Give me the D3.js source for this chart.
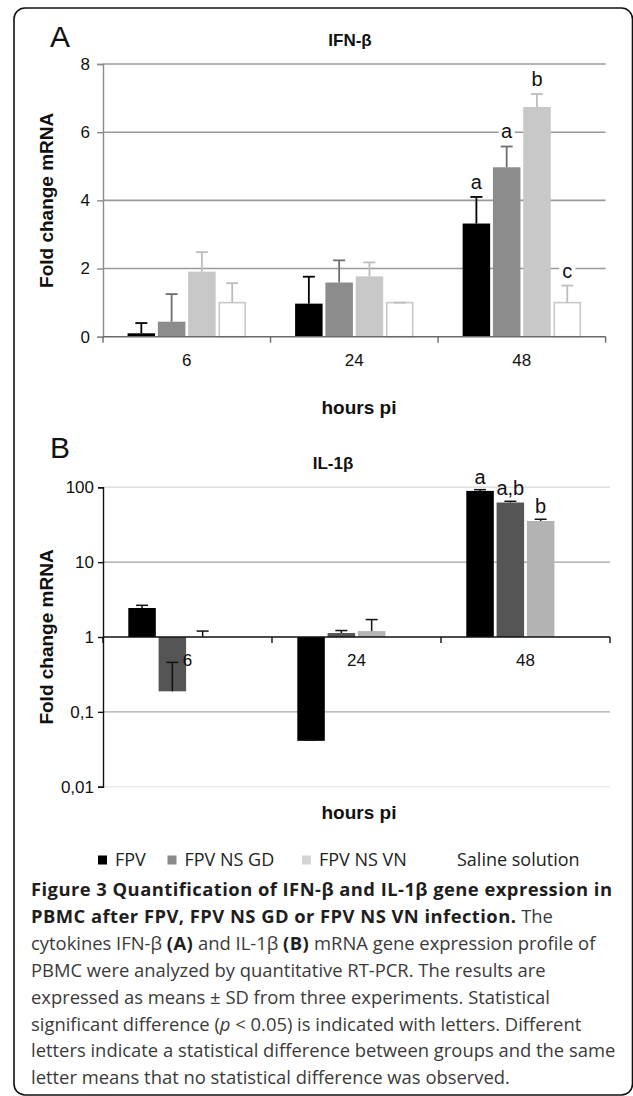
<!DOCTYPE html>
<html><head><meta charset="utf-8">
<script src="https://cdn.jsdelivr.net/npm/d3@7"></script>
<style>body{margin:0;background:#fff}</style>
</head><body><svg id="fig" width="633" height="1096" xmlns="http://www.w3.org/2000/svg"></svg>
<script>
// ---------- DATA ----------
const hours = ["6", "24", "48"];
const groups = ["FPV", "FPV NS GD", "FPV NS VN", "Saline solution"];

// Panel A: IFN-β fold change (mean, SD)
const ifnFPV = [0.10, 0.97, 3.32];
const ifnGD = [0.44, 1.59, 4.97];
const ifnVN = [1.91, 1.77, 6.74];
const ifnSaline = [1.00, 1.00, 1.00];
const ifnFPVsd = [0.30, 0.79, 0.78];
const ifnGDsd = [0.81, 0.65, 0.61];
const ifnVNsd = [0.57, 0.41, 0.38];
const ifnSalinesd = [0.57, 0.00, 0.50];
const ifnLetters = [["", "", "a"], ["", "", "a"], ["", "", "b"], ["", "", "c"]];
const ifnTicks = [0, 2, 4, 6, 8];

// Panel B: IL-1β fold change (mean, SD), log scale
const ilFPV = [2.44, 0.041, 89.5];
const ilGD = [0.188, 1.13, 62.6];
const ilVN = [1.00, 1.20, 35.5];
const ilSaline = [1.00, 1.00, 1.00];
const ilFPVsd = [0.21, 0.001, 3.5];
const ilGDsd = [0.27, 0.09, 2.4];
const ilVNsd = [0.20, 0.51, 1.9];
const ilSalinesd = [0, 0, 0];
const ilLetters = [["", "", "a"], ["", "", "a,b"], ["", "", "b"], ["", "", ""]];
const ilTicks = [0.01, 0.1, 1, 10, 100];
const ilTickLabels = ["0,01", "0,1", "1", "10", "100"];

// ---------- STYLE ----------
const chartFont = "'Liberation Sans', Arial, sans-serif";
const capFont = "'Open Sans', 'Noto Sans', sans-serif";
const ifnFill = ["#000000", "#8c8c8c", "#c8c8c8", "#ffffff"];
const ifnStroke = ["none", "none", "none", "#c8c8c8"];
const ifnErr = ["#000000", "#6e6e6e", "#bdbdbd", "#bdbdbd"];
const ilFill = ["#000000", "#555555", "#b3b3b3", "#ffffff"];
const legendFill = ["#000000", "#8a8a8a", "#d4d4d4", "#ffffff"];

const svg = d3.select("#fig");

// frame
svg.append("rect").attr("x", 14).attr("y", 8).attr("width", 618.5).attr("height", 1087)
  .attr("rx", 11).attr("fill", "none").attr("stroke", "#111").attr("stroke-width", 1.6);

function makeSeries(means, sds, letters) {
  return groups.map((g, i) => ({group: g, gi: i, values: hours.map((h, j) => ({hour: h, v: means[i][j], sd: sds[i][j], letter: letters[i][j], gi: i}))}));
}

// ============ PANEL A ============
const ax = d3.scaleBand().domain(hours).range([103, 605.6]);
const innerW = 118.4;
const axIn = d3.scaleBand().domain(groups).range([(ax.bandwidth() - innerW) / 2, (ax.bandwidth() + innerW) / 2]).paddingInner(0.092);
const ay = d3.scaleLinear().domain([0, 8]).range([336.7, 64]);
const gA = svg.append("g");

gA.append("g").selectAll("line").data(ifnTicks.filter(t => t > 0)).join("line")
  .attr("x1", 103).attr("x2", 605.6).attr("y1", d => ay(d)).attr("y2", d => ay(d))
  .attr("stroke", "#9a9a9a").attr("stroke-width", 1.6);

const yAxA = gA.append("g").attr("transform", "translate(103,0)")
  .call(d3.axisLeft(ay).tickValues(ifnTicks).tickSize(6).tickPadding(7).tickFormat(d3.format("d")));
yAxA.select(".domain").attr("stroke", "#8a8a8a").attr("stroke-width", 1.4);
yAxA.selectAll(".tick line").attr("stroke", "#8a8a8a").attr("stroke-width", 1.4);
yAxA.selectAll("text").attr("font-family", chartFont).attr("font-size", 17).attr("fill", "#111");

const ifnSeries = makeSeries([ifnFPV, ifnGD, ifnVN, ifnSaline], [ifnFPVsd, ifnGDsd, ifnVNsd, ifnSalinesd], ifnLetters);

const serA = gA.append("g").selectAll("g").data(ifnSeries).join("g");
serA.selectAll("rect").data(d => d.values).join("rect")
  .attr("x", d => ax(d.hour) + axIn(groups[d.gi]) + (d.gi === 3 ? 0.8 : 0))
  .attr("width", d => axIn.bandwidth() - (d.gi === 3 ? 1.6 : 0))
  .attr("y", d => ay(d.v))
  .attr("height", d => ay(0) - ay(d.v))
  .attr("fill", d => ifnFill[d.gi])
  .attr("stroke", d => ifnStroke[d.gi]).attr("stroke-width", 1.6);

serA.each(function(s) {
  const g = d3.select(this);
  s.values.forEach(d => {
    const cx = ax(d.hour) + axIn(groups[d.gi]) + axIn.bandwidth() / 2;
    const y0 = ay(d.v), y1 = ay(d.v + d.sd);
    g.append("line").attr("x1", cx).attr("x2", cx).attr("y1", y0).attr("y2", y1)
      .attr("stroke", ifnErr[d.gi]).attr("stroke-width", 1.8);
    g.append("line").attr("x1", cx - 6).attr("x2", cx + 6).attr("y1", y1).attr("y2", y1)
      .attr("stroke", ifnErr[d.gi]).attr("stroke-width", 1.8);
  });
});

const xAxA = gA.append("g").attr("transform", `translate(0,${ay(0)})`);
xAxA.append("line").attr("x1", 103).attr("x2", 605.6).attr("stroke", "#6a6a6a").attr("stroke-width", 1.6);
xAxA.selectAll("line.bt").data([ax.range()[0]].concat(hours.map(h => ax(h) + ax.bandwidth()))).join("line").attr("class", "bt")
  .attr("x1", d => d).attr("x2", d => d).attr("y1", 0).attr("y2", 6).attr("stroke", "#6a6a6a").attr("stroke-width", 1.4);
xAxA.selectAll("text").data(hours).join("text")
  .attr("x", d => ax(d) + ax.bandwidth() / 2).attr("y", 29)
  .attr("text-anchor", "middle").attr("font-family", chartFont).attr("font-size", 17).attr("fill", "#111").text(d => d);

const labA = ifnSeries.flatMap(s => s.values).filter(d => d.letter);
const labGA = gA.append("g").selectAll("g").data(labA).join("g")
  .attr("transform", d => `translate(${ax(d.hour) + axIn(groups[d.gi]) + axIn.bandwidth() / 2},${ay(d.v + d.sd) - 15})`);
labGA.append("rect").attr("x", -8).attr("y", -11).attr("width", 16).attr("height", 20).attr("fill", "#fff");
labGA.append("text").attr("text-anchor", "middle").attr("dy", "0.35em")
  .attr("font-family", chartFont).attr("font-size", 20).attr("fill", "#111").text(d => d.letter);

gA.append("text").attr("x", 50).attr("y", 47).attr("font-family", chartFont).attr("font-size", 30).attr("fill", "#111").text("A");
gA.append("text").attr("x", 350).attr("y", 46).attr("text-anchor", "middle").attr("font-family", chartFont)
  .attr("font-weight", "bold").attr("font-size", 17).attr("fill", "#111").text("IFN-β");
gA.append("text").attr("transform", `translate(53,${(ay(0) + ay(8)) / 2}) rotate(-90)`).attr("text-anchor", "middle")
  .attr("font-family", chartFont).attr("font-weight", "bold").attr("font-size", 19).attr("fill", "#111").text("Fold change mRNA");
gA.append("text").attr("x", 359).attr("y", 414).attr("text-anchor", "middle").attr("font-family", chartFont)
  .attr("font-weight", "bold").attr("font-size", 19).attr("fill", "#111").text("hours pi");

// ============ PANEL B ============
const bx = d3.scaleBand().domain(hours).range([103, 610]);
const bxIn = d3.scaleBand().domain(groups).range([(bx.bandwidth() - innerW) / 2, (bx.bandwidth() + innerW) / 2]).paddingInner(0.092);
const by = d3.scaleLog().domain([0.01, 100]).range([786.7, 487.3]);
const gB = svg.append("g");

const gridCol = {0.01: "#ececec", 0.1: "#a8a8a8", 10: "#a0a0a0", 100: "#dedede"};
gB.append("g").selectAll("line").data(ilTicks.filter(t => t !== 1)).join("line")
  .attr("x1", 103).attr("x2", 610).attr("y1", d => by(d)).attr("y2", d => by(d))
  .attr("stroke", d => gridCol[d]).attr("stroke-width", 1.4);

const yAxB = gB.append("g").attr("transform", "translate(103,0)")
  .call(d3.axisLeft(by).tickValues(ilTicks).tickSize(5).tickPadding(4).tickFormat((d, i) => ilTickLabels[i]));
yAxB.select(".domain").attr("stroke", "#111").attr("stroke-width", 1.4);
yAxB.selectAll(".tick line").attr("stroke", "#111").attr("stroke-width", 1.4);
yAxB.selectAll("text").attr("font-family", chartFont).attr("font-size", 17).attr("fill", "#111");

const ilSeries = makeSeries([ilFPV, ilGD, ilVN, ilSaline], [ilFPVsd, ilGDsd, ilVNsd, ilSalinesd], ilLetters);
const serB = gB.append("g").selectAll("g").data(ilSeries).join("g");
serB.selectAll("rect").data(d => d.values).join("rect")
  .attr("x", d => bx(d.hour) + bxIn(groups[d.gi]))
  .attr("width", bxIn.bandwidth())
  .attr("y", d => Math.min(by(d.v), by(1)))
  .attr("height", d => Math.abs(by(1) - by(d.v)))
  .attr("fill", d => ilFill[d.gi]);
serB.each(function(s) {
  const g = d3.select(this);
  s.values.filter(d => d.sd > 0).forEach(d => {
    const cx = bx(d.hour) + bxIn(groups[d.gi]) + bxIn.bandwidth() / 2;
    const y0 = by(d.v), y1 = by(d.v + d.sd);
    g.append("line").attr("x1", cx).attr("x2", cx).attr("y1", y0).attr("y2", y1)
      .attr("stroke", "#111").attr("stroke-width", 1.5);
    g.append("line").attr("x1", cx - 6).attr("x2", cx + 6).attr("y1", y1).attr("y2", y1)
      .attr("stroke", "#111").attr("stroke-width", 1.5);
  });
});

const xAxB = gB.append("g").attr("transform", `translate(0,${by(1)})`);
xAxB.append("line").attr("x1", 103).attr("x2", 610).attr("stroke", "#111").attr("stroke-width", 1.5);
xAxB.selectAll("line.bt").data([bx.range()[0]].concat(hours.map(h => bx(h) + bx.bandwidth()))).join("line").attr("class", "bt")
  .attr("x1", d => d).attr("x2", d => d).attr("y1", 0).attr("y2", 6).attr("stroke", "#111").attr("stroke-width", 1.4);
xAxB.selectAll("text").data(hours).join("text")
  .attr("x", d => bx(d) + bx.bandwidth() / 2).attr("y", 29)
  .attr("text-anchor", "middle").attr("font-family", chartFont).attr("font-size", 17).attr("fill", "#111").text(d => d);

const labB = ilSeries.flatMap(s => s.values).filter(d => d.letter);
gB.append("g").selectAll("text").data(labB).join("text")
  .attr("x", d => bx(d.hour) + bxIn(groups[d.gi]) + bxIn.bandwidth() / 2)
  .attr("y", d => by(d.v + d.sd) - 13).attr("dy", "0.35em").attr("text-anchor", "middle")
  .attr("font-family", chartFont).attr("font-size", 20).attr("fill", "#111").text(d => d.letter);

gB.append("text").attr("x", 50).attr("y", 458).attr("font-family", chartFont).attr("font-size", 30).attr("fill", "#111").text("B");
gB.append("text").attr("x", 333).attr("y", 469).attr("text-anchor", "middle").attr("font-family", chartFont)
  .attr("font-weight", "bold").attr("font-size", 17).attr("fill", "#111").text("IL-1β");
gB.append("text").attr("transform", `translate(53,${(by(0.01) + by(100)) / 2}) rotate(-90)`).attr("text-anchor", "middle")
  .attr("font-family", chartFont).attr("font-weight", "bold").attr("font-size", 19).attr("fill", "#111").text("Fold change mRNA");
gB.append("text").attr("x", 359).attr("y", 819).attr("text-anchor", "middle").attr("font-family", chartFont)
  .attr("font-weight", "bold").attr("font-size", 19).attr("fill", "#111").text("hours pi");

// ============ LEGEND ============
const legX = [98, 167.5, 302, 440];
const leg = svg.append("g").selectAll("g").data(groups).join("g")
  .attr("transform", (d, i) => `translate(${legX[i]},860)`);
leg.append("rect").attr("x", 0).attr("y", -4.5).attr("width", 9).attr("height", 9).attr("fill", (d, i) => legendFill[i]);
leg.append("text").attr("x", 17).attr("dy", "0.35em").attr("font-family", capFont).attr("font-size", 18)
  .attr("fill", "#222").text(d => d);

// ============ CAPTION ============
const capLines = [
  [["Figure 3 Quantification of IFN-β and IL-1β gene expression in", "b"]],
  [["PBMC after FPV, FPV NS GD or FPV NS VN infection.", "b"], [" The", "r"]],
  [["cytokines IFN-β ", "r"], ["(A)", "b"], [" and IL-1β ", "r"], ["(B)", "b"], [" mRNA gene expression profile of", "r"]],
  [["PBMC were analyzed by quantitative RT-PCR. The results are", "r"]],
  [["expressed as means ± SD from three experiments. Statistical", "r"]],
  [["significant difference (", "r"], ["p", "i"], [" < 0.05) is indicated with letters. Different", "r"]],
  [["letters indicate a statistical difference between groups and the same", "r"]],
  [["letter means that no statistical difference was observed.", "r"]]
];
const cap = svg.append("g");
capLines.forEach((parts, li) => {
  const t = cap.append("text").attr("x", 31).attr("y", 896 + li * 26.9)
    .attr("font-family", capFont).attr("font-size", 18.4).attr("fill", "#3a3a3a");
  parts.forEach(([s, st]) => {
    t.append("tspan").text(s)
      .attr("font-weight", st === "b" ? "bold" : "normal")
      .attr("font-style", st === "i" ? "italic" : "normal")
      .attr("letter-spacing", st === "b" ? 0.45 : 0)
      .attr("fill", st === "b" ? "#1e1e1e" : "#3a3a3a");
  });
});
</script>
</body></html>
